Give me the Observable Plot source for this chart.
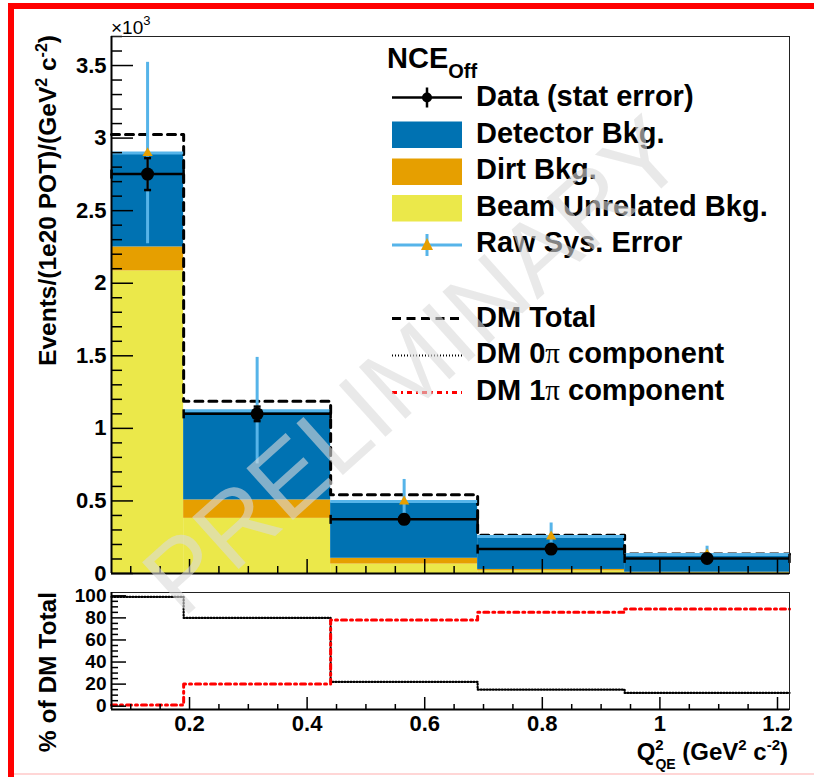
<!DOCTYPE html>
<html>
<head>
<meta charset="utf-8">
<script src="https://cdn.jsdelivr.net/npm/d3@7"></script>
<script src="https://cdn.jsdelivr.net/npm/@observablehq/plot@0.6"></script>
<style>
html,body{margin:0;padding:0;background:#fff;}
#wrap{position:relative;width:814px;height:777px;overflow:hidden;background:#fff;font-family:"Liberation Sans",Arial,Helvetica,sans-serif;}
#bot{position:absolute;left:0;top:585px;z-index:1;}
#anno{position:absolute;left:0;top:0;z-index:2;pointer-events:none;overflow:visible;}
#top{position:absolute;left:0;top:0;z-index:3;}
.rb{position:absolute;background:#ff0000;}
</style>
</head>
<body>
<div id="wrap">
<div class="rb" style="left:8px;top:3px;width:6px;height:774px;"></div>
<div class="rb" style="left:8px;top:3px;width:806px;height:6px;"></div>
<div style="position:absolute;left:14px;top:773px;width:800px;height:2px;background:#ffd6d6"></div>
<div id="bot"></div>
<svg id="anno" width="814" height="777" font-family="Liberation Sans, Arial, Helvetica, sans-serif" font-weight="bold">
  <text x="111" y="34" font-size="19" font-weight="normal">×10<tspan dy="-9" font-size="13">3</tspan></text>
  <text transform="translate(56,35) rotate(-90)" text-anchor="end" font-size="24.5">Events/(1e20 POT)/(GeV<tspan dy="-9" font-size="16">2</tspan><tspan dy="9"> c</tspan><tspan dy="-9" font-size="16">-2</tspan><tspan dy="9">)</tspan></text>
  <text transform="translate(56,592) rotate(-90)" text-anchor="end" font-size="24.5">% of DM Total</text>
  <text id="xtitle" x="628" y="760" font-size="24">Q<tspan dy="-10" font-size="15">2</tspan><tspan dx="-8.3" dy="19" font-size="14">QE</tspan><tspan dy="-9"> (GeV</tspan><tspan dy="-10" font-size="15">2</tspan><tspan dy="10"> c</tspan><tspan dy="-10" font-size="15">-2</tspan><tspan dy="10">)</tspan></text>

  <text x="387" y="68" font-size="29">NCE<tspan font-size="20" dy="9.5">Off</tspan></text>
  <g id="legend"></g>
</svg>
<div id="top"></div>
</div>
<script>
// ---------------- data ----------------
const binEdges = [0.0673, 0.19, 0.44, 0.69, 0.94, 1.2204];          // Q2_QE bin edges (GeV^2 c^-2)
const beamUnrelated = [2085, 380, 65, 18, 6];                       // events/(1e20 POT)/(GeV^2 c^-2)
const dirtBkg = [165, 127, 40, 10, 3];
const detectorBkg = [638, 609, 385, 221, 118];
const dataValues = [2752, 1100, 373, 168, 104];
const dataStatErr = [110, 50, 30, 20, 15];
const rawSysCenter = [2897, 1122, 496, 255, 131];
const rawSysErr = [625, 367, 152, 93, 57];
const dmTotal = [3024, 1187, 543, 263, 135];
const dm0piPct = [99, 80, 22, 15, 12];
const dm1piPct = [1, 20, 78, 85, 88];
const yMainTicks = [0, 0.5, 1, 1.5, 2, 2.5, 3, 3.5];
const yRatioTicks = [0, 20, 40, 60, 80, 100];
const xTicks = [0.2, 0.4, 0.6, 0.8, 1.0, 1.2];

const legendItems = ["Data (stat error)", "Detector Bkg.", "Dirt Bkg.", "Beam Unrelated Bkg.", "Raw Sys. Error", "DM Total", "DM 0π component", "DM 1π component"];

const C = {blue: "#0072b2", orange: "#e69f00", yellow: "#ebe84a", sky: "#56b4e9", red: "#ff0000"};
const fontFamily = '"Liberation Sans", Arial, Helvetica, sans-serif';
const xDomain = [binEdges[0], binEdges[binEdges.length - 1]];
const dotted = "1,2";
const dashDot = "5,4,2,4";

const components = [
  {name: "Beam Unrelated Bkg.", values: beamUnrelated, color: C.yellow},
  {name: "Dirt Bkg.", values: dirtBkg, color: C.orange},
  {name: "Detector Bkg.", values: detectorBkg, color: C.blue}
];
const stackRows = components.flatMap(c => c.values.map((v, i) => ({
  comp: c.name, fill: c.color, x1: binEdges[i], x2: binEdges[i + 1], v: v / 1e3
})));
const bins = dataValues.map((v, i) => ({
  x1: binEdges[i], x2: binEdges[i + 1], xm: (binEdges[i] + binEdges[i + 1]) / 2,
  data: v / 1e3, stat: dataStatErr[i] / 1e3,
  raw: rawSysCenter[i] / 1e3, rawErr: rawSysErr[i] / 1e3,
  dm: dmTotal[i] / 1e3, dm0: dm0piPct[i], dm1: dm1piPct[i]
}));
const stepPts = key => [...bins.map(b => ({x: b.x1, y: b[key]})), {x: bins[bins.length - 1].x2, y: bins[bins.length - 1][key]}];

const near = (a, list) => list.some(m => Math.abs(m - a) < 1e-9);
const yMainMinor = d3.range(0, 38).map(i => i / 10).filter(v => v <= 3.7 && !near(v, yMainTicks));
const yRatioMinor = d3.range(0, 21).map(i => i * 5).filter(v => !near(v, yRatioTicks));
const xMinor = d3.range(2, 25).map(i => i * 0.05).filter(v => v >= xDomain[0] && v <= xDomain[1] && !near(v, xTicks));

const hCap = {draw(ctx, size) { const r = Math.sqrt(size / Math.PI); ctx.moveTo(-r, 0); ctx.lineTo(r, 0); }};
const vCap = {draw(ctx, size) { const r = Math.sqrt(size / Math.PI); ctx.moveTo(0, -r); ctx.lineTo(0, r); }};

const topPlot = Plot.plot({
  width: 814, height: 585,
  marginLeft: 111, marginRight: 25, marginTop: 36, marginBottom: 12,
  x: {domain: xDomain},
  y: {domain: [0, 3.7]},
  color: {type: "identity"},
  style: {background: "transparent", overflow: "visible", fontFamily, fontWeight: "bold"},
  marks: [
    Plot.rectY(stackRows, {x1: "x1", x2: "x2", y: "v", fill: "fill"}),
    Plot.line(stepPts("dm"), {x: "x", y: "y", curve: "step-after", stroke: "black", strokeWidth: 3, strokeDasharray: "8,6"}),
    Plot.ruleY(bins, {x1: "x1", x2: "x2", y: "raw", stroke: C.sky, strokeWidth: 3}),
    Plot.ruleX(bins, {x: "xm", y1: d => d.raw - d.rawErr, y2: d => d.raw + d.rawErr, stroke: C.sky, strokeWidth: 3}),
    Plot.dot(bins, {x: "xm", y: "raw", symbol: "triangle", r: 3.8, fill: C.orange, stroke: "none"}),
    Plot.ruleY(bins, {x1: "x1", x2: "x2", y: "data", stroke: "black", strokeWidth: 2.5}),
    Plot.ruleX(bins, {x: "xm", y1: d => d.data - d.stat, y2: d => d.data + d.stat, stroke: "black", strokeWidth: 2.5}),
    Plot.dot(bins.flatMap(b => [{x: b.xm, y: b.data - b.stat}, {x: b.xm, y: b.data + b.stat}]), {x: "x", y: "y", symbol: hCap, r: 3.5, stroke: "black", strokeWidth: 2.5, fill: "none"}),
    Plot.dot(bins.flatMap(b => [{x: b.x1, y: b.data}, {x: b.x2, y: b.data}]), {x: "x", y: "y", symbol: vCap, r: 4.5, stroke: "black", strokeWidth: 2.5, fill: "none"}),
    Plot.dot(bins, {x: "xm", y: "data", r: 6.5, fill: "black", stroke: "none"}),
    Plot.axisY(yMainTicks, {tickSize: 22, dx: 22, fill: "none", strokeWidth: 1.5}),
    Plot.axisY(yMainMinor, {tickSize: 11, dx: 11, fill: "none", strokeWidth: 1.5}),
    Plot.axisY(yMainTicks, {tickSize: 0, tickPadding: 5, tickFormat: d => String(d), fontSize: 22, fontWeight: "bold", label: null}),
    Plot.axisX(xTicks, {tickSize: 14, dy: -14, fill: "none", strokeWidth: 1.5}),
    Plot.axisX(xMinor, {tickSize: 7, dy: -7, fill: "none", strokeWidth: 1.5}),
    Plot.frame({stroke: "#222", strokeWidth: 1}),
    Plot.ruleX([xDomain[0]], {stroke: "black", strokeWidth: 2}),
    Plot.ruleY([0], {stroke: "black", strokeWidth: 2}),
    Plot.text(["PRELIMINARY"], {text: d => d, frameAnchor: "middle", dx: -36, dy: 62, rotate: -42, fontSize: 101, fill: "#dadada", fillOpacity: 0.6, fontWeight: "normal"})
  ]
});
document.getElementById("top").appendChild(topPlot);

const botPlot = Plot.plot({
  width: 814, height: 190,
  marginLeft: 111, marginRight: 25, marginTop: 7, marginBottom: 66,
  x: {domain: xDomain},
  y: {domain: [-3, 103]},
  style: {background: "transparent", overflow: "visible", fontFamily, fontWeight: "bold"},
  marks: [
    Plot.line(stepPts("dm0"), {x: "x", y: "y", curve: "step-after", stroke: "black", strokeWidth: 2.2, strokeDasharray: dotted}),
    Plot.line(stepPts("dm1"), {x: "x", y: "y", curve: "step-after", stroke: C.red, strokeWidth: 3, strokeDasharray: dashDot}),
    Plot.axisY(yRatioTicks, {tickSize: 15, dx: 15, fill: "none", strokeWidth: 1.5}),
    Plot.axisY(yRatioMinor, {tickSize: 7, dx: 7, fill: "none", strokeWidth: 1.5}),
    Plot.axisY(yRatioTicks, {tickSize: 0, tickPadding: 5, tickFormat: d => String(d), fontSize: 19, fontWeight: "bold", label: null}),
    Plot.axisX(xTicks, {tickSize: 12, dy: -12, fill: "none", strokeWidth: 1.5}),
    Plot.axisX(xMinor, {tickSize: 5, dy: -5, fill: "none", strokeWidth: 1.5}),
    Plot.axisX(xTicks, {tickSize: 0, tickPadding: 6, tickFormat: d => String(+d.toFixed(1)), fontSize: 22, fontWeight: "bold", label: null}),
    Plot.frame({stroke: "#222", strokeWidth: 1}),
    Plot.ruleX([xDomain[0]], {stroke: "black", strokeWidth: 2}),
    Plot.ruleY([-3], {stroke: "black", strokeWidth: 2})
  ]
});
document.getElementById("bot").appendChild(botPlot);

// ---------------- legend ----------------
const lg = d3.select("#legend");
const rowY = [97.5, 134.5, 171.5, 208, 245, 318.5, 355.5, 392.5];
const baseY = [106.3, 142.5, 179, 215.7, 252.3, 326.5, 363.3, 400];
const sx1 = 392, sx2 = 462, sxm = 427;
legendItems.forEach((t, i) => {
  const tx = lg.append("text").attr("x", 476).attr("y", baseY[i]).attr("font-size", 29);
  if (t.includes("π")) {
    const [a, b] = t.split("π");
    tx.append("tspan").text(a);
    tx.append("tspan").attr("font-family", "Liberation Serif, DejaVu Serif, serif").attr("font-weight", "normal").text("π");
    tx.append("tspan").text(b);
  } else tx.text(t);
});
lg.append("line").attr("x1", sx1).attr("x2", sx2).attr("y1", rowY[0]).attr("y2", rowY[0]).attr("stroke", "black").attr("stroke-width", 2.5);
lg.append("line").attr("x1", sxm).attr("x2", sxm).attr("y1", rowY[0] - 10).attr("y2", rowY[0] + 10).attr("stroke", "black").attr("stroke-width", 2.5);
lg.append("circle").attr("cx", sxm).attr("cy", rowY[0]).attr("r", 5).attr("fill", "black");
[[1, C.blue], [2, C.orange], [3, C.yellow]].forEach(([i, c]) => {
  lg.append("rect").attr("x", sx1).attr("y", rowY[i] - 13).attr("width", sx2 - sx1).attr("height", 26.5).attr("fill", c);
});
lg.append("line").attr("x1", sx1).attr("x2", sx2).attr("y1", rowY[4]).attr("y2", rowY[4]).attr("stroke", C.sky).attr("stroke-width", 3);
lg.append("line").attr("x1", sxm).attr("x2", sxm).attr("y1", rowY[4] - 11).attr("y2", rowY[4] + 11).attr("stroke", C.sky).attr("stroke-width", 3);
lg.append("path").attr("d", `M${sxm},${rowY[4] - 7}L${sxm + 6},${rowY[4] + 5}L${sxm - 6},${rowY[4] + 5}Z`).attr("fill", C.orange);
lg.append("line").attr("x1", sx1).attr("x2", sx2).attr("y1", rowY[5]).attr("y2", rowY[5]).attr("stroke", "black").attr("stroke-width", 3).attr("stroke-dasharray", "9,5.5");
lg.append("line").attr("x1", sx1).attr("x2", sx2).attr("y1", rowY[6]).attr("y2", rowY[6]).attr("stroke", "black").attr("stroke-width", 2.2).attr("stroke-dasharray", dotted);
lg.append("line").attr("x1", sx1).attr("x2", sx2).attr("y1", rowY[7]).attr("y2", rowY[7]).attr("stroke", C.red).attr("stroke-width", 3).attr("stroke-dasharray", dashDot);

// right-align the x title to the frame edge
const xt = document.getElementById("xtitle");
const bb = xt.getBBox();
xt.setAttribute("x", 628 + (788 - (bb.x + bb.width)));
</script>
</body>
</html>
